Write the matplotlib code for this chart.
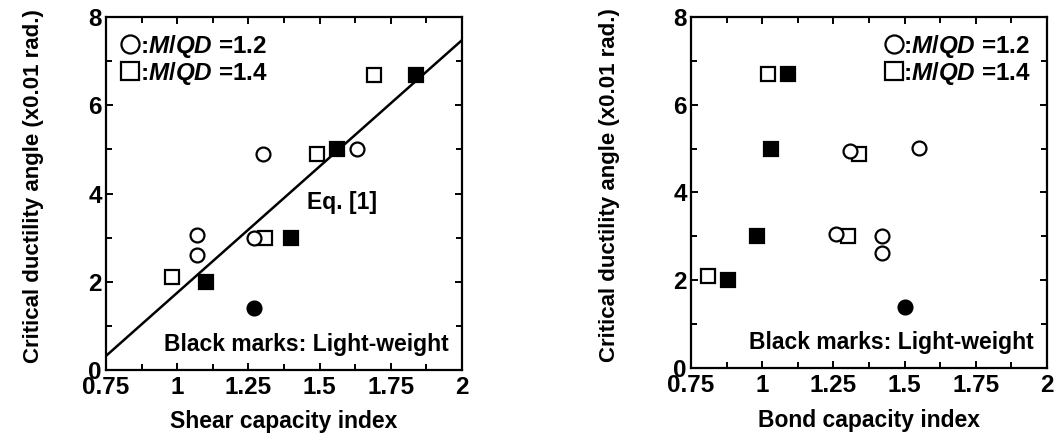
import matplotlib
matplotlib.use("Agg")
import matplotlib.pyplot as plt
from matplotlib.lines import Line2D
from matplotlib.ticker import MultipleLocator

# --- data ---
# shear capacity index panel
shear_c12_x = [1.30, 1.07, 1.07, 1.27, 1.63]
shear_c12_y = [4.9, 3.05, 2.6, 3.0, 5.02]
shear_s14_x = [0.98, 1.31, 1.49, 1.69]
shear_s14_y = [2.1, 3.0, 4.9, 6.7]
shear_lw_s_x = [1.10, 1.40, 1.56, 1.84]
shear_lw_s_y = [2.0, 3.0, 5.02, 6.7]
shear_lw_c_x = [1.27]
shear_lw_c_y = [1.4]
eq_x = [0.75, 2.0]
eq_y = [0.32, 7.48]

# bond capacity index panel
bond_c12_x = [1.26, 1.31, 1.55, 1.42, 1.42]
bond_c12_y = [3.05, 4.95, 5.02, 3.0, 2.62]
bond_s14_x = [0.81, 1.02, 1.30, 1.34]
bond_s14_y = [2.1, 6.7, 3.0, 4.88]
bond_lw_s_x = [0.88, 0.98, 1.03, 1.09]
bond_lw_s_y = [2.0, 3.0, 5.0, 6.7]
bond_lw_c_x = [1.50]
bond_lw_c_y = [1.4]

xticks = [0.75, 1, 1.25, 1.5, 1.75, 2]
xticklabels = ["0.75", "1", "1.25", "1.5", "1.75", "2"]
yticks = [0, 2, 4, 6, 8]

plt.rcParams["font.family"] = ["Liberation Sans", "DejaVu Sans"]
plt.rcParams["font.weight"] = "bold"
plt.rcParams["mathtext.fontset"] = "custom"
plt.rcParams["mathtext.it"] = "Liberation Sans:italic:bold"
plt.rcParams["mathtext.rm"] = "Liberation Sans:bold"
plt.rcParams["mathtext.bf"] = "Liberation Sans:bold"

fig = plt.figure(figsize=(10.55, 4.41), dpi=100)
ax1 = fig.add_axes([0.1005, 0.161, 0.3374, 0.800])
ax2 = fig.add_axes([0.655, 0.1655, 0.3374, 0.796])

ms_c = 10
ms_s = 10.5
mew = 1.6


def style_axes(ax, xlabel, ylab_x, xlab_y):
    ax.set_xlim(0.75, 2)
    ax.set_ylim(0, 8)
    ax.set_xticks(xticks)
    ax.set_xticklabels(xticklabels)
    ax.set_yticks(yticks)
    ax.xaxis.set_minor_locator(MultipleLocator(0.125))
    ax.yaxis.set_minor_locator(MultipleLocator(1))
    ax.tick_params(which="both", direction="in", top=True, right=True, width=1.4)
    ax.tick_params(which="major", length=5, labelsize=17.5, pad=3)
    ax.tick_params(axis="x", which="major", pad=4.5)
    ax.tick_params(which="minor", length=4)
    for s in ax.spines.values():
        s.set_linewidth(1.6)
    ax.set_xlabel(xlabel, fontsize=16.5, fontweight="bold")
    ax.set_ylabel("Critical ductility angle (x0.01 rad.)", fontsize=16, fontweight="bold")
    ax.yaxis.set_label_coords(ylab_x, 0.52)
    ax.xaxis.set_label_coords(0.5, xlab_y)
    ax.text(0.962, 0.04, "Black marks: Light-weight", transform=ax.transAxes,
            ha="right", va="bottom", fontsize=16.5, fontweight="bold")


def draw_points(ax, cx, cy, sx, sy, lsx, lsy, lcx, lcy):
    ax.plot(sx, sy, "s", ms=ms_s, mfc="white", mec="black", mew=mew, zorder=3)
    ax.plot(cx, cy, "o", ms=ms_c, mfc="white", mec="black", mew=mew, zorder=3)
    ax.plot(lsx, lsy, "s", ms=ms_s, mfc="black", mec="black", mew=mew, zorder=4)
    ax.plot(lcx, lcy, "o", ms=ms_c, mfc="black", mec="black", mew=mew, zorder=4)


legend_handles = [
    Line2D([], [], ls="none", marker="o", ms=13, mfc="white", mec="black", mew=1.6),
    Line2D([], [], ls="none", marker="s", ms=13, mfc="white", mec="black", mew=1.6),
]
legend_labels = [r":$M/QD$ =1.2", r":$M/QD$ =1.4"]

# --- left panel ---
draw_points(ax1, shear_c12_x, shear_c12_y, shear_s14_x, shear_s14_y,
            shear_lw_s_x, shear_lw_s_y, shear_lw_c_x, shear_lw_c_y)
ax1.plot(eq_x, eq_y, color="black", lw=1.8, zorder=2)
ax1.text(1.455, 3.8, "Eq. [1]", ha="left", va="center", fontsize=16.5, fontweight="bold")
style_axes(ax1, "Shear capacity index", -0.175, -0.112)
ax1.legend(legend_handles, legend_labels, loc="upper left", frameon=False,
           fontsize=17.5, handlelength=0.7, handletextpad=0.05, labelspacing=0.0,
           borderaxespad=0.35, borderpad=0.3)

# --- right panel ---
draw_points(ax2, bond_c12_x, bond_c12_y, bond_s14_x, bond_s14_y,
            bond_lw_s_x, bond_lw_s_y, bond_lw_c_x, bond_lw_c_y)
style_axes(ax2, "Bond capacity index", -0.2, -0.118)
ax2.legend(legend_handles, legend_labels, loc="upper right", frameon=False,
           fontsize=17.5, handlelength=0.7, handletextpad=0.05, labelspacing=0.0,
           borderaxespad=0.35, borderpad=0.3)

fig.savefig("out.png", dpi=100)
